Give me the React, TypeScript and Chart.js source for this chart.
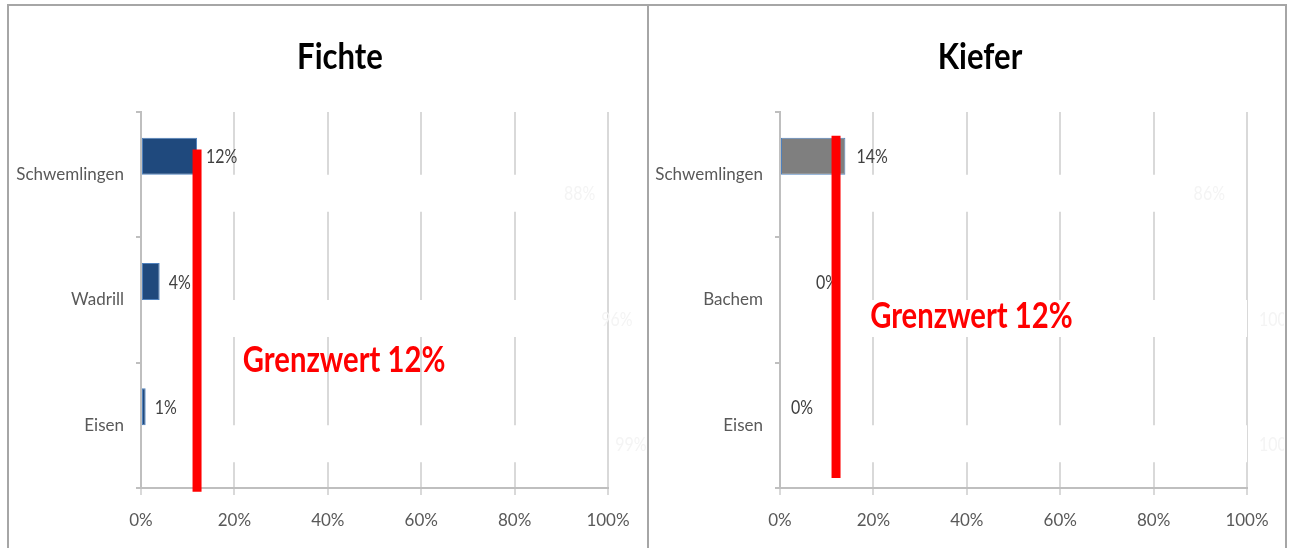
import React, { useEffect, useRef } from "react";
import { Chart, registerables } from "chart.js";

Chart.register(...registerables);

// Anteile je Standort (in %) und der jeweils nicht betroffene Rest
const fichteCategories = ["Schwemlingen", "Wadrill", "Eisen"];
const fichteShares = [12, 4, 1];
const fichteRest = [88, 96, 99];

const kieferCategories = ["Schwemlingen", "Bachem", "Eisen"];
const kieferShares = [14, 0, 0];
const kieferRest = [86, 100, 100];

const limitValue = 12;
const limitLabel = "Grenzwert 12%";
const xTickValues = [0, 20, 40, 60, 80, 100];

const FONT = 'Lato, "DejaVu Sans Condensed", sans-serif';

type PanelSpec = {
  title: string;
  categories: string[];
  shares: number[];
  rest: number[];
  barColor: string;
  barBorder: string;
  labelShift: number[];
  lineSpan: [number, number];
  notePos: [number, number];
  axisWidth: number;
  padRight: number;
};

// narrow text: drawn with a horizontal squeeze
function drawNarrow(ctx: CanvasRenderingContext2D, text: string, x: number, y: number, sx: number) {
  ctx.save();
  ctx.translate(x, y);
  ctx.scale(sx, 1);
  ctx.fillText(text, 0, 0);
  ctx.restore();
}

// draws the title, value labels, the limit line and its caption using the chart's scales
const overlayPlugin = {
  id: "overlay",
  afterDatasetsDraw(chart: any, _args: any, opts: any) {
    const { ctx, scales } = chart;
    const x = scales.x;
    const y = scales.y;
    ctx.save();

    // title
    ctx.fillStyle = "#000000";
    ctx.font = `bold 37px ${FONT}`;
    ctx.textAlign = "center";
    ctx.textBaseline = "middle";
    drawNarrow(ctx, opts.title, opts.titleX, 50, 0.84);

    // value labels
    ctx.textAlign = "left";
    ctx.textBaseline = "middle";
    ctx.font = `19px ${FONT}`;
    chart.data.datasets.forEach((ds: any, di: number) => {
      const meta = chart.getDatasetMeta(di);
      meta.data.forEach((bar: any, i: number) => {
        const v = ds.data[i];
        const shift = di === 0 ? opts.labelShift[i] || 0 : 0;
        ctx.fillStyle = di === 0 ? "#404040" : "#f4f4f4";
        drawNarrow(ctx, `${v}%`, bar.x + (di === 0 ? 9 : 12) + shift, bar.y + 1, 0.84);
      });
    });

    // limit line
    const lx = x.getPixelForValue(opts.limit);
    ctx.strokeStyle = "#ff0000";
    ctx.lineWidth = 9;
    ctx.lineCap = "butt";
    ctx.beginPath();
    ctx.moveTo(lx, y.getPixelForValue(opts.lineSpan[0]));
    ctx.lineTo(lx, y.getPixelForValue(opts.lineSpan[1]));
    ctx.stroke();

    // caption
    ctx.fillStyle = "#ff0000";
    ctx.font = `bold 37px ${FONT}`;
    ctx.textAlign = "left";
    ctx.textBaseline = "middle";
    drawNarrow(ctx, opts.label, x.getPixelForValue(opts.notePos[0]), y.getPixelForValue(opts.notePos[1]), 0.79);
    ctx.restore();
  },
};

function makeConfig(p: PanelSpec): any {
  return {
    type: "bar",
    data: {
      labels: p.categories,
      datasets: [
        {
          data: p.shares,
          backgroundColor: p.barColor,
          borderColor: p.barBorder,
          borderWidth: (c: any) => (c.raw === 0 ? 0 : 1),
          borderSkipped: false,
        },
        {
          data: p.rest,
          backgroundColor: "#ffffff",
          borderWidth: 0,
        },
      ],
    },
    plugins: [overlayPlugin],
    options: {
      indexAxis: "y",
      responsive: false,
      animation: false,
      events: [],
      layout: { padding: { left: 0, right: p.padRight, top: 105, bottom: 0 } },
      datasets: { bar: { categoryPercentage: 0.59, barPercentage: 1.0 } },
      plugins: {
        legend: { display: false },
        tooltip: { enabled: false },
        title: { display: false },
        overlay: {
          title: p.title,
          titleX: 330,
          labelShift: p.labelShift,
          limit: limitValue,
          lineSpan: p.lineSpan,
          notePos: p.notePos,
          label: limitLabel,
        },
      },
      scales: {
        x: {
          type: "linear",
          min: 0,
          max: 100,
          afterBuildTicks: (s: any) => {
            s.ticks = xTickValues.map((v) => ({ value: v }));
          },
          afterFit: (s: any) => {
            s.height = 60;
          },
          ticks: {
            color: "#595959",
            font: { family: FONT, size: 17 },
            padding: 15,
            callback: (v: any) => `${v}%`,
          },
          grid: { color: "#d9d9d9", lineWidth: 2, tickLength: 7, drawTicks: true },
          border: { color: "#bfbfbf", width: 2 },
        },
        y: {
          type: "category",
          offset: true,
          afterFit: (s: any) => {
            s.width = p.axisWidth;
          },
          ticks: {
            color: "#595959",
            font: { family: FONT, size: 17 },
            padding: 12,
          },
          grid: {
            offset: true,
            drawOnChartArea: false,
            drawTicks: true,
            tickLength: 5,
            color: "#bfbfbf",
            lineWidth: 2,
          },
          border: { color: "#bfbfbf", width: 2 },
        },
      },
    },
  };
}

function Panel({ spec, left, width }: { spec: PanelSpec; left: number; width: number }) {
  const ref = useRef<HTMLCanvasElement | null>(null);
  useEffect(() => {
    if (!ref.current) return;
    const chart = new Chart(ref.current, makeConfig(spec));
    return () => chart.destroy();
  }, []);
  return (
    <canvas
      ref={ref}
      width={width}
      height={541}
      style={{ position: "absolute", left, top: 7, width, height: 541 }}
    />
  );
}

const fichteSpec: PanelSpec = {
  title: "Fichte",
  categories: fichteCategories,
  shares: fichteShares,
  rest: fichteRest,
  barColor: "#1f497d",
  barBorder: "#4f81bd",
  labelShift: [0, 0, 0],
  lineSpan: [-0.2, 2.53],
  notePos: [21.8, 1.48],
  axisWidth: 131,
  padRight: 38,
};

const kieferSpec: PanelSpec = {
  title: "Kiefer",
  categories: kieferCategories,
  shares: kieferShares,
  rest: kieferRest,
  barColor: "#7f7f7f",
  barBorder: "#4f81bd",
  labelShift: [2, 27, 2],
  lineSpan: [-0.31, 2.42],
  notePos: [19.3, 1.13],
  axisWidth: 130,
  padRight: 37,
};

export default function App() {
  return (
    <div
      style={{
        position: "fixed",
        left: 0,
        top: 0,
        width: 1290,
        height: 548,
        background: "#ffffff",
        overflow: "hidden",
      }}
    >
      <div
        style={{
          position: "absolute",
          left: 7,
          top: 4,
          width: 642,
          height: 600,
          boxSizing: "border-box",
          border: "2px solid #a6a6a6",
        }}
      />
      <div
        style={{
          position: "absolute",
          left: 647,
          top: 4,
          width: 640,
          height: 600,
          boxSizing: "border-box",
          border: "2px solid #a6a6a6",
        }}
      />
      <Panel spec={fichteSpec} left={10} width={636} />
      <Panel spec={kieferSpec} left={650} width={634} />
    </div>
  );
}
